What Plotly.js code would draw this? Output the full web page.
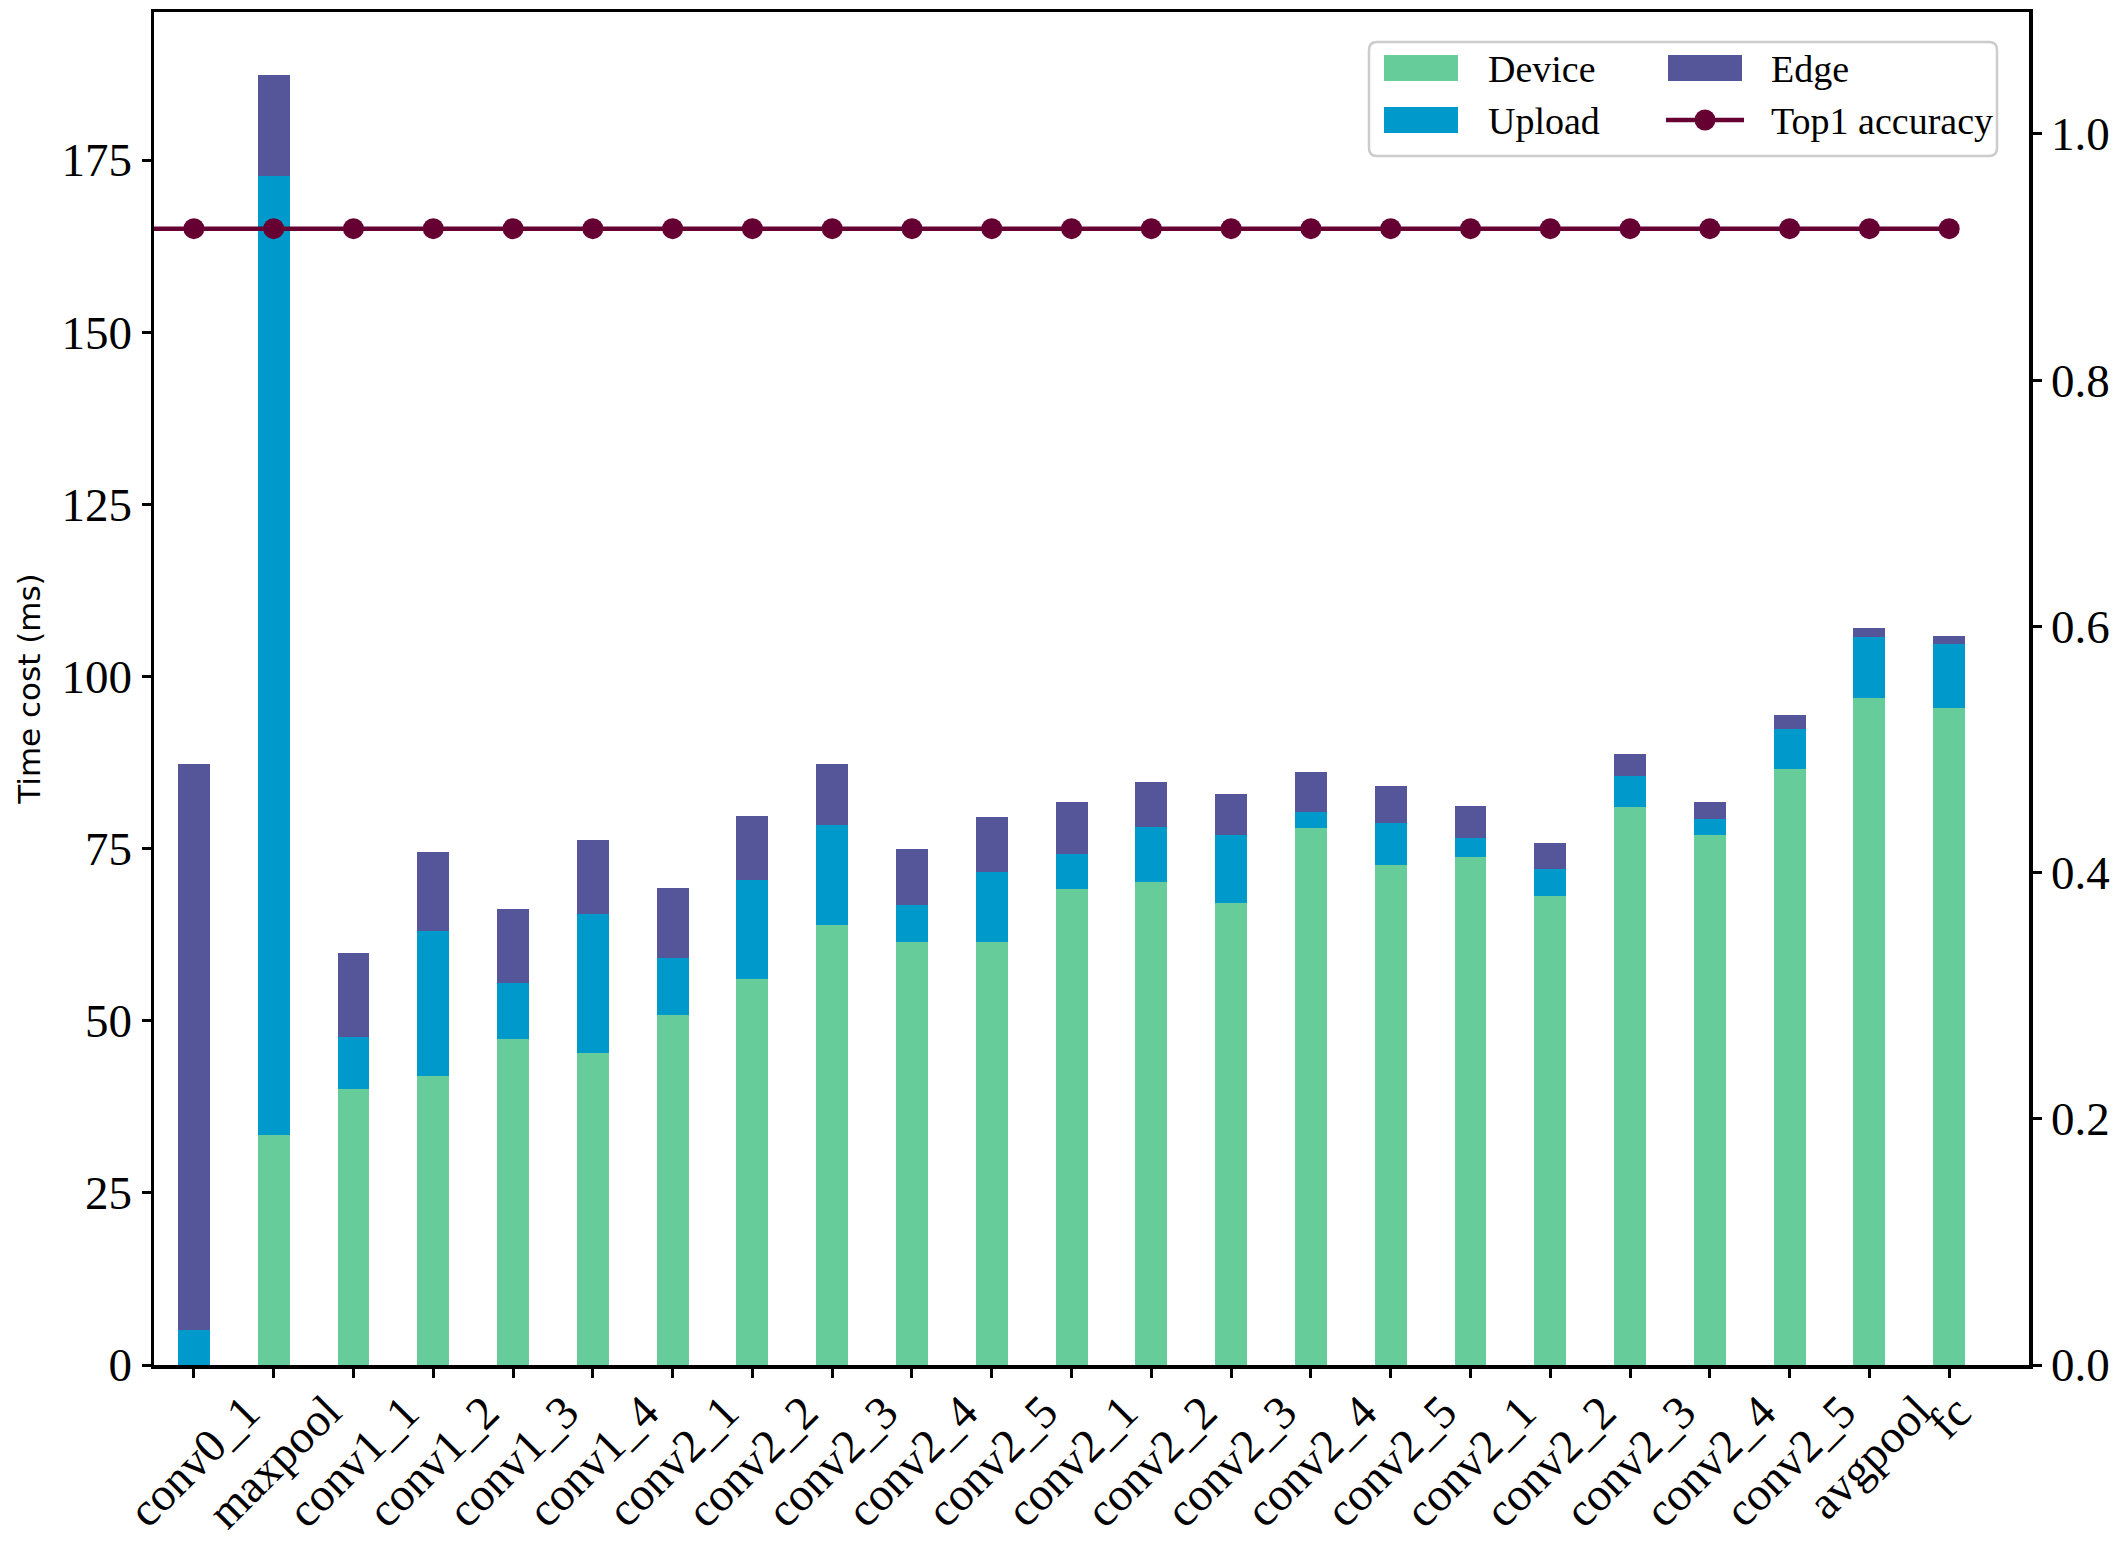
<!DOCTYPE html>
<html><head><meta charset="utf-8">
<script src="https://cdn.plot.ly/plotly-3.0.1.min.js"></script>
<style>html,body{margin:0;padding:0;background:#fff;} #chart{width:2120px;height:1547px;}</style>
</head><body><div id="chart"></div>
<script>
// ---- data ----
const layers = ['conv0_1','maxpool','conv1_1','conv1_2','conv1_3','conv1_4','conv2_1','conv2_2','conv2_3','conv2_4','conv2_5','conv2_1','conv2_2','conv2_3','conv2_4','conv2_5','conv2_1','conv2_2','conv2_3','conv2_4','conv2_5','avgpool','fc'];
const deviceMs = [0, 33.45, 40.13, 42.02, 47.39, 45.36, 50.87, 56.10, 63.93, 61.47, 61.47, 69.16, 70.17, 67.13, 78.01, 72.64, 73.80, 68.14, 81.06, 77.00, 86.57, 96.88, 95.43];
const uploadMs = [5.15, 139.25, 7.55, 21.04, 8.13, 20.17, 8.27, 14.36, 14.52, 5.37, 10.16, 5.08, 7.99, 9.87, 2.32, 6.10, 2.76, 3.92, 4.50, 2.32, 5.81, 8.85, 9.29];
const edgeMs = [82.15, 14.60, 12.19, 11.47, 10.74, 10.74, 10.16, 9.29, 8.85, 8.12, 7.98, 7.55, 6.53, 5.95, 5.81, 5.37, 4.64, 3.77, 3.19, 2.47, 2.03, 1.31, 1.16];
const top1Accuracy = [0.923, 0.923, 0.923, 0.923, 0.923, 0.923, 0.923, 0.923, 0.923, 0.923, 0.923, 0.923, 0.923, 0.923, 0.923, 0.923, 0.923, 0.923, 0.923, 0.923, 0.923, 0.923, 0.923];
const yTicks = [0, 25, 50, 75, 100, 125, 150, 175];
const y2Ticks = [0, 0.2, 0.4, 0.6, 0.8, 1.0];

// ---- style ----
const COLORS = {Device: '#66CC99', Upload: '#0099CC', Edge: '#555599', Acc: '#660033'};
const SERIF = 'Liberation Serif, Times New Roman, serif';
const W = 2120, H = 1547;
const M = {l: 154, r: 91, t: 12, b: 182};
const xRange = [-0.5, 23.0];
const idx = layers.map((_, i) => i);
const px = v => (v - M.l) / (W - M.l - M.r);
const py = v => (H - M.b - v) / (H - M.t - M.b);

const traces = [
  {type: 'bar', name: 'Device', x: idx, y: deviceMs, width: 0.4, marker: {color: COLORS.Device}, showlegend: false},
  {type: 'bar', name: 'Upload', x: idx, y: uploadMs, width: 0.4, marker: {color: COLORS.Upload}, showlegend: false},
  {type: 'bar', name: 'Edge', x: idx, y: edgeMs, width: 0.4, marker: {color: COLORS.Edge}, showlegend: false},
  {type: 'scatter', name: 'Top1 accuracy', x: idx, y: top1Accuracy, yaxis: 'y2', mode: 'lines+markers',
   line: {color: COLORS.Acc, width: 4.5}, marker: {color: COLORS.Acc, size: 21}, showlegend: false}
];

// rotated category labels, centred on each tick like the original
const annotations = layers.map((t, i) => ({
  x: i, xref: 'x', y: 0, yref: 'paper', text: t, textangle: -45,
  xanchor: 'center', yanchor: 'top', yshift: -19, showarrow: false, borderpad: 0,
  font: {family: SERIF, size: 47, color: '#000'}
}));

// legend box (drawn as shapes + text)
const shapes = [];
const bx0 = 1369, bx1 = 1997, by0 = 42, by1 = 156, r = 8;
const X = v => px(v), Y = v => py(v);
shapes.push({type: 'path', xref: 'paper', yref: 'paper',
  path: `M${X(bx0 + r)},${Y(by0)} L${X(bx1 - r)},${Y(by0)} Q${X(bx1)},${Y(by0)} ${X(bx1)},${Y(by0 + r)} L${X(bx1)},${Y(by1 - r)} Q${X(bx1)},${Y(by1)} ${X(bx1 - r)},${Y(by1)} L${X(bx0 + r)},${Y(by1)} Q${X(bx0)},${Y(by1)} ${X(bx0)},${Y(by1 - r)} L${X(bx0)},${Y(by0 + r)} Q${X(bx0)},${Y(by0)} ${X(bx0 + r)},${Y(by0)} Z`,
  fillcolor: 'rgba(255,255,255,0.8)', line: {color: '#cccccc', width: 2.5}, layer: 'above'});
const legendItems = [
  {name: 'Device', kind: 'bar', col: 0, row: 0},
  {name: 'Upload', kind: 'bar', col: 0, row: 1},
  {name: 'Edge', kind: 'bar', col: 1, row: 0},
  {name: 'Top1 accuracy', kind: 'line', col: 1, row: 1}
];
const colX = [1384, 1668], textX = [1486, 1769], rowY = [68, 120];
legendItems.forEach(it => {
  const x0 = colX[it.col], x1 = x0 + 74, yc = rowY[it.row];
  const color = it.kind === 'line' ? COLORS.Acc : COLORS[it.name];
  if (it.kind === 'bar') {
    shapes.push({type: 'rect', xref: 'paper', yref: 'paper', x0: X(x0), x1: X(x1), y0: Y(yc - 13), y1: Y(yc + 13),
      fillcolor: color, line: {width: 0}, layer: 'above'});
  } else {
    shapes.push({type: 'line', xref: 'paper', yref: 'paper', x0: X(x0 - 2), x1: X(x1 + 2), y0: Y(yc), y1: Y(yc),
      line: {color: color, width: 4.5}, layer: 'above'});
    shapes.push({type: 'circle', xref: 'paper', yref: 'paper', x0: X((x0 + x1) / 2 - 10.5), x1: X((x0 + x1) / 2 + 10.5),
      y0: Y(yc - 10.5), y1: Y(yc + 10.5), fillcolor: color, line: {width: 0}, layer: 'above'});
  }
  annotations.push({x: X(textX[it.col]), xref: 'paper', y: Y(yc + 1), yref: 'paper', text: it.name,
    xanchor: 'left', yanchor: 'middle', showarrow: false, font: {family: SERIF, size: 38, color: '#000'}});
});
// accuracy line continues to the left spine as in the original
shapes.push({type: 'line', xref: 'x', yref: 'y2', x0: xRange[0], x1: idx[0], y0: top1Accuracy[0], y1: top1Accuracy[0],
  line: {color: COLORS.Acc, width: 4.5}, layer: 'above'});

const axisCommon = {showline: true, linewidth: 3.5, linecolor: '#000', ticks: 'outside', ticklen: 9, tickwidth: 3,
  tickcolor: '#000', showgrid: false, zeroline: false, tickfont: {family: SERIF, size: 47, color: '#000'}};

const layout = {
  width: W, height: H, margin: M, barmode: 'stack', showlegend: false,
  paper_bgcolor: '#fff', plot_bgcolor: '#fff',
  xaxis: Object.assign({}, axisCommon, {range: xRange, tickmode: 'array', tickvals: idx, ticktext: layers,
    showticklabels: false, mirror: true}),
  yaxis: Object.assign({}, axisCommon, {range: [0, 196.5], tickmode: 'array', tickvals: yTicks,
    title: {text: 'Time cost (ms)', font: {family: 'DejaVu Sans', size: 31, color: '#000'}, standoff: 12}}),
  yaxis2: Object.assign({}, axisCommon, {range: [0, 1.099], overlaying: 'y', side: 'right', tickmode: 'array',
    tickvals: y2Ticks, tickformat: '.1f'}),
  annotations: annotations,
  shapes: shapes
};

Plotly.newPlot('chart', traces, layout, {staticPlot: true, displayModeBar: false});
</script>
</body></html>
